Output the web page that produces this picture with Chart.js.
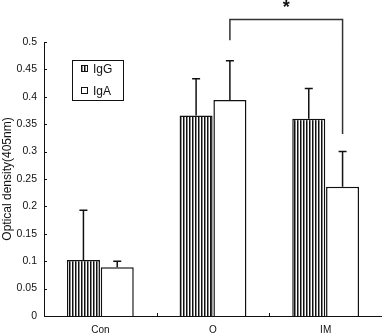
<!DOCTYPE html>
<html>
<head>
<meta charset="utf-8">
<script src="https://cdn.jsdelivr.net/npm/chart.js@4"></script>
<style>
html,body{margin:0;padding:0;background:#fff;}
#wrap{width:382px;height:334px;position:relative;}
</style>
</head>
<body>
<div id="wrap"><canvas id="c" width="382" height="334"></canvas></div>
<script>
const categories = ['Con', 'O', 'IM'];
const igG = [0.102, 0.366, 0.360];
const igGErr = [0.091, 0.067, 0.055];
const igA = [0.089, 0.394, 0.236];
const igAErr = [0.011, 0.072, 0.064];
const yTickLabels = ['0','0.05','0.1','0.15','0.2','0.25','0.3','0.35','0.4','0.45','0.5'];
const sigPair = {from: [1, 1], to: [2, 1], top: 0.541, fromBottom: 0.503, toBottom: 0.332, label: '*'};

const FONT = '"Liberation Sans", Arial, Helvetica, sans-serif';

function makeHatch(ctx){
  const p = document.createElement('canvas');
  p.width = 3; p.height = 4;
  const g = p.getContext('2d');
  g.fillStyle = '#fff'; g.fillRect(0,0,3,4);
  g.fillStyle = '#111'; g.fillRect(0,0,1,4);
  g.fillStyle = '#888'; g.fillRect(1,0,1,4);
  return ctx.createPattern(p, 'repeat');
}

const canvas = document.getElementById('c');
const ctx = canvas.getContext('2d');
const hatch = makeHatch(ctx);

const extras = {
  id: 'extras',
  afterDatasetsDraw(chart){
    const c = chart.ctx;
    const y = chart.scales.y, x = chart.scales.x;
    const errs = [igGErr, igAErr];
    c.save();
    c.strokeStyle = '#111';
    c.lineWidth = 1.5;
    chart.data.datasets.forEach((ds, di) => {
      const meta = chart.getDatasetMeta(di);
      meta.data.forEach((el, i) => {
        const top = y.getPixelForValue(ds.data[i] + errs[di][i]);
        c.beginPath();
        c.moveTo(el.x, el.y);
        c.lineTo(el.x, top);
        c.moveTo(el.x - 4, top);
        c.lineTo(el.x + 4, top);
        c.stroke();
      });
    });
    // inward ticks on y axis
    c.lineWidth = 1;
    const ax = chart.chartArea.left;
    y.ticks.forEach((t, i) => {
      const py = Math.round(y.getPixelForTick(i)) + 0.5;
      c.beginPath(); c.moveTo(ax, py); c.lineTo(ax + 3, py); c.stroke();
    });
    // inward ticks on x axis at category boundaries
    const by = chart.chartArea.bottom;
    for (let i = 0; i < categories.length - 1; i++) {
      const px = Math.round((x.getPixelForTick(i) + x.getPixelForTick(i + 1)) / 2) + 0.5;
      c.beginPath(); c.moveTo(px, by); c.lineTo(px, by - 3); c.stroke();
    }
    // significance bracket
    const m0 = chart.getDatasetMeta(sigPair.from[1]).data[sigPair.from[0]];
    const m1 = chart.getDatasetMeta(sigPair.to[1]).data[sigPair.to[0]];
    const yt = y.getPixelForValue(sigPair.top);
    c.strokeStyle = '#333';
    c.lineWidth = 1.5;
    c.beginPath();
    c.moveTo(m0.x, y.getPixelForValue(sigPair.fromBottom));
    c.lineTo(m0.x, yt);
    c.lineTo(m1.x, yt);
    c.lineTo(m1.x, y.getPixelForValue(sigPair.toBottom));
    c.stroke();
    c.fillStyle = '#111';
    c.font = 'bold 18px ' + FONT;
    c.textAlign = 'center';
    c.textBaseline = 'middle';
    c.fillText(sigPair.label, (m0.x + m1.x) / 2, yt - 12);
    // legend box
    c.strokeStyle = '#111';
    c.lineWidth = 1;
    c.strokeRect(72.5, 60.5, 51, 40);
    c.font = '12px ' + FONT;
    c.textAlign = 'left';
    chart.data.datasets.forEach((ds, di) => {
      const cy = 69 + di * 22;
      c.fillStyle = ds.backgroundColor;
      c.fillRect(81, cy - 4, 7, 7);
      c.strokeRect(81.5, cy - 3.5, 6, 6);
      c.fillStyle = '#111';
      c.fillText(ds.label, 93, cy + 0.5);
    });
    c.restore();
  }
};

new Chart(ctx, {
  type: 'bar',
  data: {
    labels: categories,
    datasets: [
      {label: 'IgG', data: igG, backgroundColor: hatch, borderColor: '#111', borderWidth: 1.5},
      {label: 'IgA', data: igA, backgroundColor: '#fff', borderColor: '#111', borderWidth: 1.5}
    ]
  },
  options: {
    responsive: false,
    animation: false,
    events: [],
    layout: {padding: {top: 42, right: 0, bottom: 0, left: 0}},
    categoryPercentage: 0.6,
    barPercentage: 0.977,
    plugins: {legend: {display: false}, tooltip: {enabled: false}},
    scales: {
      x: {
        grid: {display: false, drawTicks: false},
        border: {display: true, color: '#111', width: 1},
        ticks: {color: '#111', font: {family: FONT, size: 10}, padding: 8},
        afterFit(s){ s.height = 18; }
      },
      y: {
        min: 0, max: 0.5,
        grid: {display: false, drawTicks: false},
        border: {display: true, color: '#111', width: 1},
        ticks: {
          stepSize: 0.05, color: '#111', font: {family: FONT, size: 10.5}, padding: 7,
          callback: (v, i) => yTickLabels[i]
        },
        title: {display: true, text: 'Optical density(405nm)', color: '#111', font: {family: FONT, size: 12}, padding: 0},
        afterFit(s){ s.width = 44; }
      }
    }
  },
  plugins: [extras]
});
</script>
</body>
</html>
